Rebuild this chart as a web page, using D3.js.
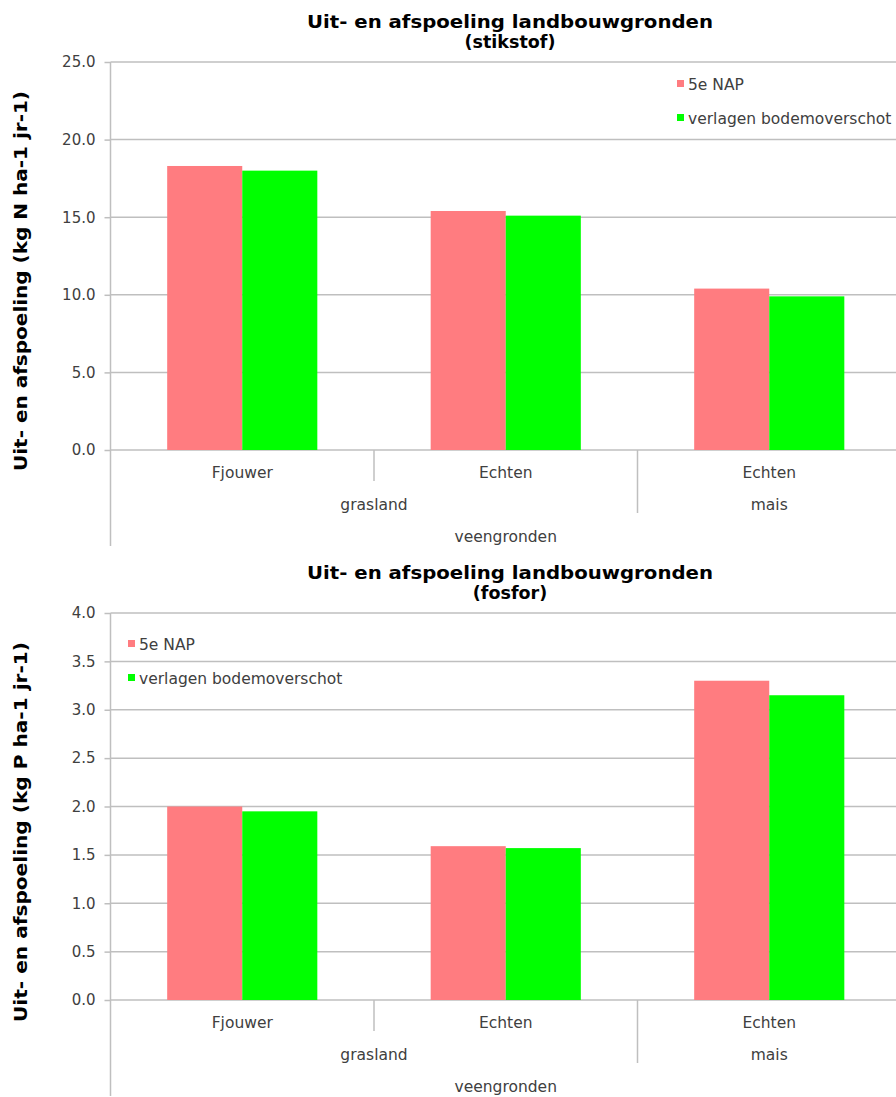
<!DOCTYPE html>
<html>
<head>
<meta charset="utf-8">
<script src="https://cdn.jsdelivr.net/npm/d3@7"></script>
<style>
  html, body { margin: 0; padding: 0; background: #ffffff; }
  svg { display: block; }
  text { font-family: "DejaVu Sans", Verdana, sans-serif; }
</style>
</head>
<body>
<svg id="chart" width="896" height="1097"></svg>
<script>
// ---- data -------------------------------------------------------------
const locations = ["Fjouwer", "Echten", "Echten"];
const landUse = ["grasland", "grasland", "mais"];
const soilType = ["veengronden", "veengronden", "veengronden"];
const seriesNames = ["5e NAP", "verlagen bodemoverschot"];
const seriesColors = ["#FF7C80", "#00FF00"];

const nitrogen5eNAP = [18.3, 15.4, 10.4];
const nitrogenLowered = [18.0, 15.1, 9.9];
const nitrogenTicks = [0, 5, 10, 15, 20, 25];

const phosphorus5eNAP = [2.0, 1.59, 3.30];
const phosphorusLowered = [1.95, 1.57, 3.15];
const phosphorusTicks = [0, 0.5, 1.0, 1.5, 2.0, 2.5, 3.0, 3.5, 4.0];

// ---- drawing ----------------------------------------------------------
const svg = d3.select("#chart");

function drawPanel(opts) {
  const g = svg.append("g");
  const left = 110.5, right = 901;
  const top = opts.top, bottom = opts.bottom;
  const levelGap = 32;

  const x0 = d3.scaleBand().domain(d3.range(locations.length)).range([left, right]).padding(0);
  const x1 = d3.scaleBand().domain(seriesNames).range([0, x0.bandwidth()]).paddingInner(0).paddingOuter(0.755);
  const y = d3.scaleLinear().domain([0, d3.max(opts.ticks)]).range([bottom, top]);

  // two-line title
  const title = g.append("text")
    .attr("text-anchor", "middle").attr("font-weight", "bold").attr("fill", "#000")
    .attr("font-size", 17.5);
  title.append("tspan").attr("x", 510).attr("y", top - 34)
    .attr("textLength", 406).attr("lengthAdjust", "spacingAndGlyphs")
    .text(opts.title[0]);
  title.append("tspan").attr("x", 510).attr("y", top - 14)
    .text(opts.title[1]);

  // gridlines
  g.append("g").selectAll("line").data(opts.ticks).join("line")
    .attr("x1", left).attr("x2", right + 10)
    .attr("y1", d => y(d)).attr("y2", d => y(d))
    .attr("stroke", "#BFBFBF").attr("stroke-width", 1.5);

  // y axis
  const yAxis = d3.axisLeft(y).tickValues(opts.ticks).tickFormat(d3.format(".1f"))
    .tickSize(6).tickPadding(9);
  const ya = g.append("g").attr("transform", `translate(${left},0)`).call(yAxis);
  ya.select(".domain").remove();
  ya.selectAll(".tick line").attr("stroke", "#BFBFBF").attr("stroke-width", 1.5);
  ya.selectAll(".tick text").attr("font-size", 15).attr("fill", "#404040")
    .attr("font-family", "'DejaVu Sans', Verdana, sans-serif");

  // vertical axis line running through the category label area
  g.append("line").attr("x1", left).attr("x2", left)
    .attr("y1", top).attr("y2", bottom + levelGap * 3)
    .attr("stroke", "#BFBFBF").attr("stroke-width", 1.5);

  // bars
  const series = [opts.values[0], opts.values[1]];
  series.forEach((vals, si) => {
    g.append("g").selectAll("rect").data(vals).join("rect")
      .attr("x", (d, i) => x0(i) + x1(seriesNames[si]))
      .attr("y", d => y(d))
      .attr("width", x1.bandwidth())
      .attr("height", d => y(0) - y(d))
      .attr("fill", seriesColors[si]);
  });

  // category separators (hierarchical)
  for (let i = 1; i < locations.length; i++) {
    let depth = 1;
    if (landUse[i] !== landUse[i - 1]) depth = 2;
    if (soilType[i] !== soilType[i - 1]) depth = 3;
    g.append("line").attr("x1", x0(i)).attr("x2", x0(i))
      .attr("y1", bottom).attr("y2", bottom + levelGap * depth - 1)
      .attr("stroke", "#BFBFBF").attr("stroke-width", 1.5);
  }

  // group labels for each level
  function spans(arr) {
    const out = [];
    arr.forEach((v, i) => {
      if (i > 0 && arr[i - 1] === v && out.length) out[out.length - 1].end = i;
      else out.push({ label: v, start: i, end: i });
    });
    return out;
  }
  const levels = [locations, landUse, soilType];
  levels.forEach((arr, li) => {
    const sp = li === 0 ? arr.map((v, i) => ({ label: v, start: i, end: i })) : spans(arr);
    g.append("g").selectAll("text").data(sp).join("text")
      .attr("x", d => (x0(d.start) + x0(d.end) + x0.bandwidth()) / 2)
      .attr("y", bottom + 28 + li * levelGap)
      .attr("text-anchor", "middle").attr("font-size", 15.5).attr("fill", "#404040")
      .text(d => d.label);
  });

  // y axis title
  g.append("text")
    .attr("transform", `translate(27,${opts.yTitleCenter}) rotate(-90)`)
    .attr("text-anchor", "middle").attr("font-weight", "bold").attr("font-size", 17)
    .attr("textLength", 380).attr("lengthAdjust", "spacingAndGlyphs")
    .attr("fill", "#000")
    .text(opts.yTitle);

  // legend
  const lg = g.append("g").attr("transform", `translate(${opts.legend[0]},${opts.legend[1]})`);
  seriesNames.forEach((name, i) => {
    const row = lg.append("g").attr("transform", `translate(0,${i * 34})`);
    row.append("rect").attr("x", 0).attr("y", -4).attr("width", 7).attr("height", 7)
      .attr("fill", seriesColors[i]);
    row.append("text").attr("x", 11).attr("y", 5.5).attr("font-size", 15.5).attr("fill", "#404040")
      .text(name);
  });
}

drawPanel({
  top: 62, bottom: 450,
  ticks: nitrogenTicks,
  values: [nitrogen5eNAP, nitrogenLowered],
  title: ["Uit- en afspoeling landbouwgronden", "(stikstof)"],
  yTitle: "Uit- en afspoeling (kg N ha-1 jr-1)",
  yTitleCenter: 281,
  legend: [677, 84]
});

drawPanel({
  top: 613, bottom: 1000,
  ticks: phosphorusTicks,
  values: [phosphorus5eNAP, phosphorusLowered],
  title: ["Uit- en afspoeling landbouwgronden", "(fosfor)"],
  yTitle: "Uit- en afspoeling (kg P ha-1 jr-1)",
  yTitleCenter: 832,
  legend: [128, 644]
});
</script>
</body>
</html>
